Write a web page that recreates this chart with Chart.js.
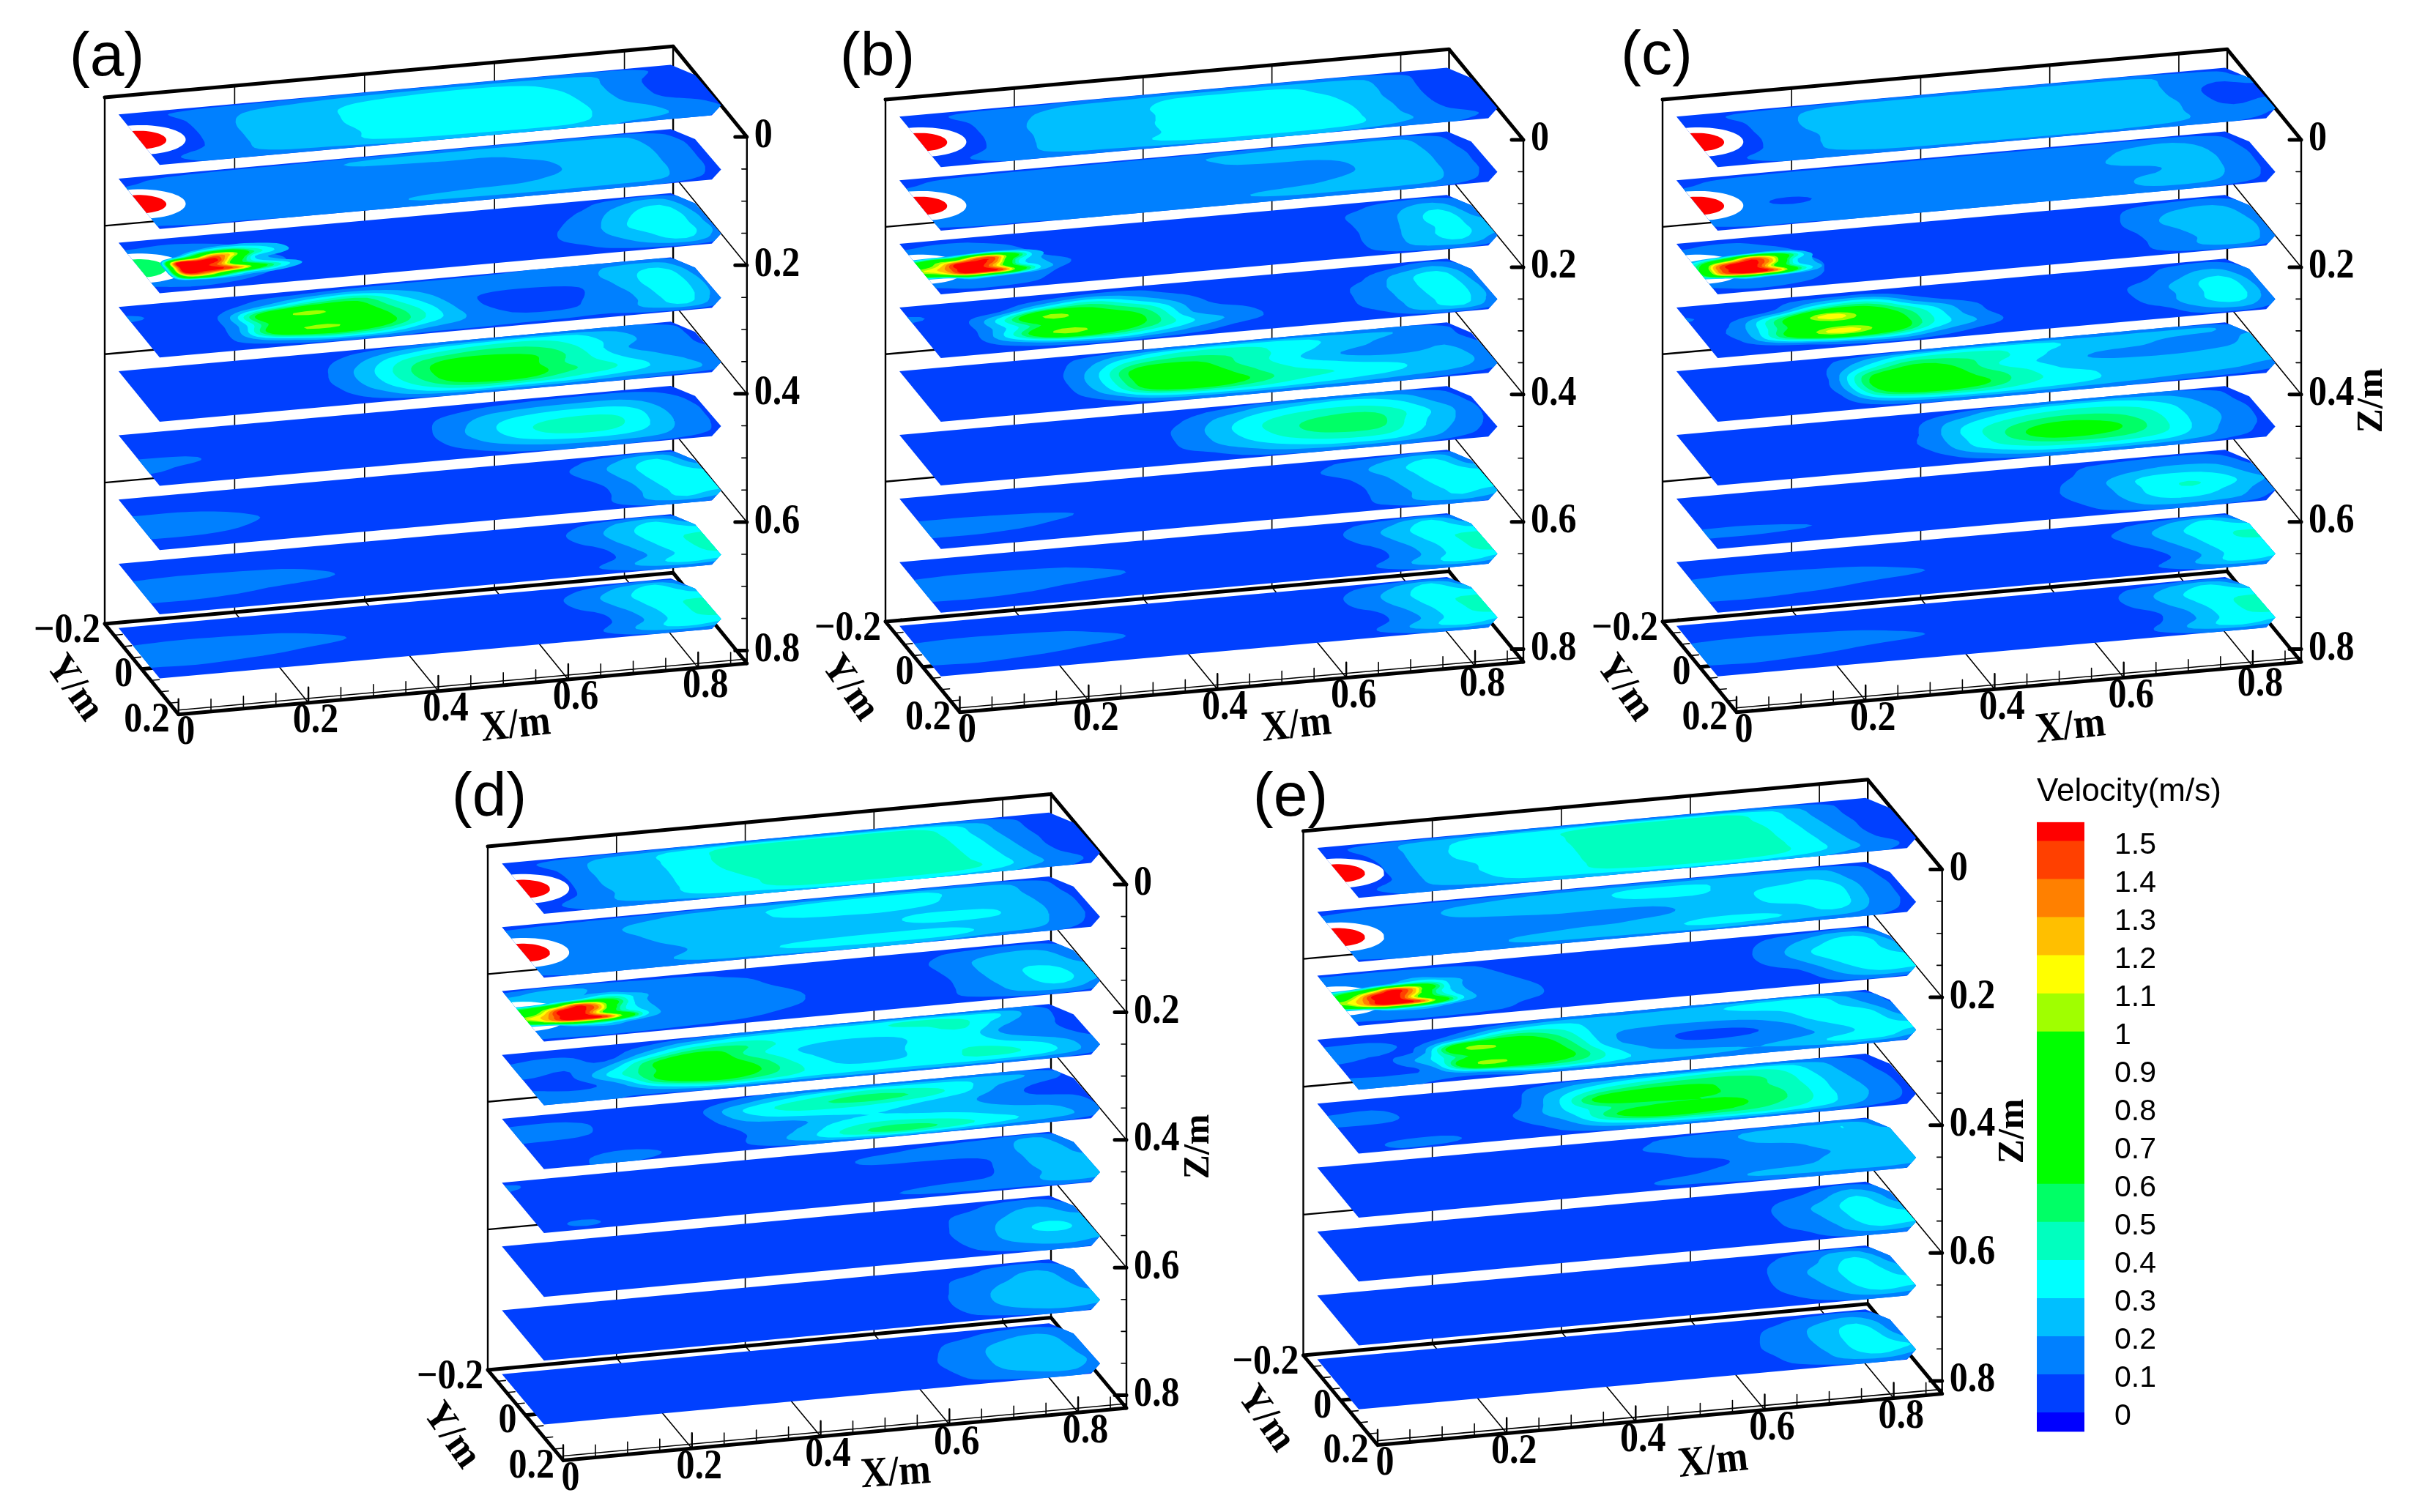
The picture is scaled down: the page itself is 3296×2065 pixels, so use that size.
<!DOCTYPE html>
<html>
<head>
<meta charset="utf-8">
<title>Velocity slices</title>
<script src="https://cdn.jsdelivr.net/npm/chart.js@4"></script>
<style>
  html, body { margin: 0; background: #fff; }
  body { position: relative; width: 3296px; height: 2065px; overflow: hidden; }
  canvas { position: absolute; }
</style>
</head>
<body>
<script>
// stations of the velocity tables, metres
const xStations = [0,.07,.14,.21,.28,.35,.42,.49,.56,.63,.70,.76,.82,.875];
const yStations = [-.125,-.105,-.07,-.035,0,.035,.07,.1];
const jetX = [0,.03,.06,.09,.12,.15,.18,.22,.26];
const jetY = [-.08,-.06,-.04,-.02,0,.02,.04,.06];
const zTicks = [0,.2,.4,.6,.8];
const xTicks = [0,.2,.4,.6,.8];
const yTicks = [-.2,0,.2];
const sliceZ = [0,.1,.2,.3,.4,.5,.6,.7,.8];

// colour bar
const barTicks = [0,.1,.2,.3,.4,.5,.6,.7,.8,.9,1,1.1,1.2,1.3,1.4,1.5];
const barEdges = [-.05,0,.1,.2,.3,.4,.5,.6,1,1.1,1.2,1.3,1.4,1.5,1.55];
const barColors = ['#0000ff','#0040ff','#0080ff','#00bfff','#00ffff','#00ffbf','#00ff66','#00ff00','#a0ff00','#ffff00','#ffbf00','#ff8000','#ff4000','#ff0000'];
// contour levels in 0.01 m/s, and the band colour above each
const levels = [10,20,30,40,50,60,100,110,120,130,140,150];
const bandColors = ['#0040ff','#0080ff','#00bfff','#00ffff','#00ffbf','#00ff66','#00ff00','#a0ff00','#ffff00','#ffbf00','#ff8000','#ff4000','#ff0000'];

// velocity tables, 0.01 m/s, one row per y station, one column per x station
const backEdge = [5,5,5,5,5,5,5,5,5,5,5,7,8,5];
const frontEdge = [5,5,5,5,5,5,5,5,5,5,6,9,10,7];
const rimTop = [6,7,8,8,8,8,8,8,8,8,8,8,7,6];

const sliceA1 = [[8,8,8,8,9,9,9,9,9,9,9,9,8,6],[8,10,15,18,20,24,26,28,28,26,22,16,9,6],[6,8,17,24,26,32,36,36,36,32,24,15,6,6],[6,7,18,25,27,33,36,36,36,36,25,15,6,6],[6,7,18,25,28,32,36,36,36,36,27,16,8,7],[6,8,18,25,26,32,36,36,36,36,28,22,14,9],[8,12,18,24,26,31,35,36,36,35,26,23,17,10],[8,10,12,14,15,18,20,22,24,24,20,16,12,8]];
const sliceA2 = [rimTop,[8,12,14,15,17,20,23,24,25,25,25,23,12,7],[12,15,15,15,16,18,18,19,19,24,28,27,15,8],[12,15,15,15,15,15,15,15,15,19,28,28,16,8],[12,15,15,15,15,15,15,15,15,18,27,28,16,8],[12,15,15,15,15,15,15,17,18,22,27,28,16,8],[12,15,15,15,15,17,22,24,25,26,26,25,14,7],[8,9,9,10,10,10,11,11,11,11,10,9,8,6]];
const sliceA3 = [backEdge,[8,9,7,5,5,5,5,5,5,5,7,16,22,8],[13,15,12,6,5,5,5,5,5,5,12,25,33,12],[14,15,15,9,5,5,5,5,5,7,16,30,38,16],[14,15,15,11,5,5,5,5,5,9,18,32,38,17],[14,15,15,9,5,5,5,5,5,9,17,26,38,18],[10,13,10,6,5,5,5,5,5,5,12,20,28,14],[6,6,5,5,5,5,5,5,5,5,5,6,7,5]];
const sliceA4 = [[5,5,5,5,6,7,8,8,9,10,12,13,11,7],[6,5,5,9,14,18,15,14,13,15,16,22,24,9],[12,6,8,26,48,55,28,15,14,15,17,25,35,14],[5,5,15,85,103,68,38,16,7,6,12,25,38,17],[5,5,14,70,85,72,45,18,6,6,12,22,38,18],[5,5,16,85,103,75,42,20,9,7,14,21,36,17],[7,9,10,26,45,40,22,16,13,13,13,21,30,12],[9,8,5,5,6,7,7,8,8,7,6,7,7,5]];
const sliceA5 = [[5,5,5,5,5,6,8,10,11,11,11,11,9,6],[5,5,5,5,5,10,20,30,35,36,30,20,14,8],[5,5,5,5,6,18,38,50,55,50,36,24,14,9],[5,5,5,5,7,24,48,68,65,58,38,20,15,9],[5,5,5,5,8,25,50,72,75,55,40,26,17,11],[5,5,5,5,7,22,45,70,80,55,45,32,22,14],[5,5,5,5,6,14,30,42,42,38,30,26,24,14],[5,5,5,5,5,6,8,10,11,11,10,8,6,5]];
const sliceA6 = [[5,5,5,5,5,5,5,5,6,7,8,8,8,6],[5,5,5,5,5,5,5,6,10,13,14,14,10,7],[5,5,5,5,5,5,5,12,22,27,28,26,15,8],[7,6,5,5,5,5,5,16,30,38,40,35,18,9],[13,12,5,5,5,5,5,18,32,44,48,36,19,9],[12,7,5,5,5,5,5,15,28,38,40,32,18,9],[5,5,5,5,5,5,5,9,16,22,24,22,15,8],[5,5,5,5,5,5,5,6,8,9,9,8,7,5]];
const sliceA7 = [backEdge,[5,5,5,5,5,5,5,5,5,5,9,18,26,8],[6,6,5,5,5,5,5,5,5,5,13,25,36,16],[13,13,10,6,5,5,5,5,5,5,11,24,38,30],[14,14,13,8,5,5,5,5,5,5,8,21,37,36],[13,13,10,5,5,5,5,5,5,5,8,20,34,36],[6,6,5,5,5,5,5,5,5,5,9,20,30,22],frontEdge];
const sliceA8 = [backEdge,[5,5,5,5,5,5,5,5,5,5,10,20,28,9],[6,6,6,5,5,5,5,5,5,5,14,26,37,28],[12,14,13,12,9,6,5,5,5,5,12,25,37,42],[14,15,14,14,11,7,5,5,5,5,7,21,35,44],[13,13,11,8,6,5,5,5,5,5,7,18,32,42],[6,6,5,5,5,5,5,5,5,5,12,24,34,30],frontEdge];
const sliceA9 = [backEdge,[5,5,5,5,5,5,5,5,5,5,10,20,30,9],[6,6,6,5,5,5,5,5,5,5,15,27,38,26],[12,14,13,12,9,6,5,5,5,5,13,25,38,40],[14,15,14,14,12,8,5,5,5,5,8,21,36,44],[13,14,12,10,7,5,5,5,5,5,8,19,35,42],[6,7,6,5,5,5,5,5,5,5,11,24,34,28],frontEdge];

const sliceB1 = [[7,8,8,8,9,9,9,9,9,9,9,8,7,6],[6,10,15,18,22,24,28,28,28,26,22,13,7,6],[6,8,15,22,25,28,34,36,36,30,24,14,6,6],[6,7,16,24,26,28,35,36,36,33,24,14,6,6],[5,7,16,24,26,29,36,36,36,35,25,15,6,5],[6,8,17,24,26,29,36,36,36,36,25,16,8,6],[8,11,17,24,26,30,35,36,36,34,25,18,12,8],[7,9,11,13,14,16,18,20,20,18,16,12,9,6]];
const sliceB2 = [rimTop,[8,12,13,14,15,16,18,20,22,24,25,24,12,7],[12,15,15,15,15,15,15,20,22,23,27,27,14,7],[12,15,15,15,15,15,15,15,15,16,24,28,15,8],[12,15,15,15,15,15,15,15,15,16,23,28,15,8],[12,15,15,15,15,15,15,16,17,21,26,28,15,8],[12,15,15,15,15,15,15,20,24,25,26,24,13,7],[8,9,9,10,10,10,10,11,11,11,10,9,8,6]];
const sliceB3 = [backEdge,[9,11,8,5,5,5,5,5,5,5,8,15,18,8],[13,15,13,5,5,5,5,5,5,5,13,20,30,10],[14,16,16,8,5,5,5,5,5,5,13,22,36,16],[14,16,16,12,5,5,5,5,5,5,13,23,33,24],[14,15,15,9,5,5,5,5,5,5,14,24,34,22],[10,14,12,6,5,5,5,5,5,5,13,22,27,14],[6,7,6,5,5,5,5,5,5,5,7,8,8,5]];
const sliceB4 = [backEdge,[5,5,5,8,15,13,5,5,5,5,5,10,18,7],[12,6,10,38,50,28,12,5,5,5,9,24,33,12],[5,6,42,108,70,50,18,6,5,5,14,26,37,15],[5,6,35,72,78,58,20,12,5,5,15,25,38,17],[5,6,45,110,80,52,28,15,5,5,15,24,36,17],[7,6,15,32,38,26,14,6,5,5,10,24,30,12],[8,6,5,5,5,5,5,5,5,5,5,7,7,5]];
const sliceB5 = [[5,5,5,5,6,8,10,12,12,12,11,11,9,6],[5,5,5,5,12,24,36,38,36,30,24,20,14,7],[5,5,5,5,20,48,55,50,40,30,22,15,14,8],[5,5,5,6,28,70,72,52,38,24,16,15,20,10],[5,5,5,6,30,72,78,58,42,34,26,24,24,14],[5,5,5,6,26,68,82,62,45,40,36,28,26,14],[5,5,5,5,12,30,38,38,34,30,26,22,18,10],[5,5,5,5,5,7,9,10,11,11,10,8,6,5]];
const sliceB6 = [[5,5,5,5,5,5,5,6,8,10,10,10,8,6],[5,5,5,5,5,5,6,12,22,28,30,24,13,7],[5,5,5,5,5,5,10,24,36,42,42,34,18,8],[5,5,5,5,5,5,14,30,44,52,54,40,24,9],[5,5,5,5,5,5,15,30,44,56,56,36,22,9],[5,5,5,5,5,5,14,26,38,46,46,32,18,8],[5,5,5,5,5,5,7,16,25,31,31,24,13,6],[5,5,5,5,5,5,5,7,9,10,10,8,6,5]];
const sliceB7 = [backEdge,[5,5,5,5,5,5,5,5,5,7,13,20,26,8],[5,5,5,5,5,5,5,5,5,9,18,28,36,14],[8,8,7,6,5,5,5,5,5,5,14,26,38,30],[14,14,13,11,8,5,5,5,5,5,12,24,36,34],[13,13,11,8,5,5,5,5,5,5,12,22,33,32],[6,6,5,5,5,5,5,5,5,5,12,22,28,20],frontEdge];
const sliceB8 = [backEdge,[5,5,5,5,5,5,5,5,5,5,10,18,30,9],[6,6,6,5,5,5,5,5,5,5,14,26,38,26],[12,14,13,12,9,6,5,5,5,5,12,24,38,42],[14,15,14,14,12,8,5,5,5,5,8,20,35,46],[13,14,12,9,6,5,5,5,5,5,8,19,34,42],[6,6,5,5,5,5,5,5,5,5,12,24,34,26],frontEdge];
const sliceB9 = [backEdge,[5,5,5,5,5,5,5,5,5,5,10,19,30,9],[6,6,6,5,5,5,5,5,5,5,14,26,38,28],[12,14,13,12,9,6,5,5,5,5,13,25,38,42],[14,15,14,14,12,8,5,5,5,5,8,21,36,44],[13,14,12,10,7,5,5,5,5,5,8,19,35,40],[6,7,6,5,5,5,5,5,5,5,12,25,34,26],frontEdge];

const sliceC1 = [[7,8,8,8,9,9,9,9,9,9,9,8,7,6],[6,10,15,20,25,26,26,26,26,26,24,16,13,7],[6,8,16,24,27,28,28,28,28,28,26,15,10,12],[6,7,17,23,27,28,28,28,28,28,26,15,6,8],[5,7,16,22,27,28,28,28,28,28,26,17,6,9],[6,8,17,22,27,28,28,28,28,28,26,17,11,14],[8,11,17,21,26,27,27,27,27,27,24,18,15,9],[7,9,11,13,14,15,16,17,17,16,14,12,9,6]];
const sliceC2 = [rimTop,[8,12,13,14,14,14,15,15,15,15,17,18,12,7],[12,15,15,15,15,15,15,15,15,17,24,26,16,7],[12,14,14,15,15,15,15,15,15,19,26,27,18,8],[12,13,8,13,15,15,15,15,15,16,18,26,18,8],[12,14,14,15,15,15,15,15,15,18,22,27,17,8],[11,15,15,15,15,15,15,15,15,17,22,22,14,7],[8,9,9,10,10,10,10,11,11,11,10,9,8,6]];
const sliceC3 = [backEdge,[9,11,7,5,5,5,5,5,5,6,10,14,15,8],[13,15,11,5,5,5,5,5,5,5,14,22,25,12],[14,16,14,6,5,5,5,5,5,5,16,25,27,16],[14,15,15,8,5,5,5,5,5,5,13,22,27,18],[14,15,15,7,5,5,5,5,5,5,12,20,27,17],[10,14,11,6,5,5,5,5,5,5,12,20,25,13],[6,7,6,5,5,5,5,5,5,5,7,8,8,5]];
const sliceC4 = [backEdge,[5,5,7,14,16,6,5,5,5,5,5,12,15,7],[11,5,15,48,52,18,5,5,5,5,8,18,26,10],[5,14,60,118,78,40,14,5,5,5,14,24,36,14],[5,18,62,90,82,45,16,5,5,5,14,24,38,16],[5,16,72,118,85,40,20,5,5,5,12,26,36,15],[7,6,14,30,34,18,8,5,5,5,5,18,24,10],[7,6,5,5,5,5,5,5,5,5,5,7,7,5]];
const sliceC5 = [[5,5,5,5,6,8,10,11,11,11,11,10,8,6],[5,5,5,6,18,32,36,36,32,25,25,24,22,8],[5,5,5,8,35,58,52,42,30,24,22,16,14,22],[5,5,5,10,62,74,58,36,27,18,15,15,18,24],[5,5,5,12,70,78,62,46,30,26,24,24,26,24],[5,5,5,10,60,80,66,45,36,28,26,25,25,22],[5,5,5,7,25,36,38,34,30,26,22,20,18,12],[5,5,5,5,6,8,9,10,10,9,8,7,6,5]];
const sliceC6 = [[5,5,5,5,5,5,6,8,10,11,11,10,8,6],[5,5,5,5,5,6,12,24,30,32,28,20,12,7],[5,5,5,5,5,8,25,38,46,46,40,28,15,7],[5,5,5,5,5,10,32,50,62,58,46,30,18,8],[5,5,5,5,5,12,32,54,75,66,48,30,18,8],[5,5,5,5,5,10,30,45,55,54,44,28,15,8],[5,5,5,5,5,6,16,28,33,34,30,22,12,6],[5,5,5,5,5,5,6,8,10,10,10,8,6,5]];
const sliceC7 = [[5,5,5,5,5,5,5,5,5,5,6,7,8,5],[5,5,5,5,5,5,5,5,7,10,14,16,12,6],[5,5,5,5,5,5,5,5,7,13,20,22,20,8],[5,5,5,5,5,5,5,5,9,18,32,34,28,14],[8,8,6,5,5,5,5,5,10,18,33,41,33,20],[13,13,11,8,5,5,5,5,9,17,32,35,26,15],[6,6,5,5,5,5,5,5,7,14,24,25,20,8],[5,5,5,5,5,5,5,5,6,7,9,9,8,5]];
const sliceC8 = [backEdge,[5,5,5,5,5,5,5,5,5,5,11,20,30,10],[6,6,6,5,5,5,5,5,5,7,16,28,38,34],[12,14,13,12,10,7,5,5,5,5,14,26,38,42],[14,15,14,14,13,10,5,5,5,5,9,22,36,38],[13,14,12,10,7,5,5,5,5,5,7,18,34,36],[6,6,5,5,5,5,5,5,5,5,11,22,33,28],frontEdge];
const sliceC9 = [backEdge,[5,5,5,5,5,5,5,5,5,5,11,20,28,9],[6,6,6,5,5,5,5,5,5,5,15,28,38,30],[12,14,13,12,10,7,5,5,5,5,13,26,38,42],[14,15,14,14,13,10,5,5,5,5,8,21,37,44],[13,14,12,10,7,5,5,5,5,5,9,20,36,40],[6,7,6,5,5,5,5,5,5,5,12,25,34,26],frontEdge];

const sliceD1 = [[7,8,8,8,9,9,9,9,9,9,9,8,7,6],[7,12,20,26,33,40,42,42,42,40,30,16,7,6],[6,10,24,28,36,45,46,46,46,46,33,18,7,6],[6,9,24,28,36,45,46,46,46,46,35,20,8,6],[5,9,24,28,36,42,46,46,46,46,36,22,8,6],[6,10,22,28,36,40,46,46,46,46,37,24,10,6],[8,13,22,27,35,38,46,46,46,46,38,25,14,7],[7,10,13,16,18,22,26,28,30,28,24,16,10,6]];
const sliceD2 = [rimTop,[11,13,14,17,22,26,28,30,32,32,26,24,13,7],[14,15,17,24,26,28,31,36,37,34,26,25,15,7],[14,15,16,22,26,28,28,28,29,28,26,26,17,8],[14,15,15,20,26,28,28,28,28,34,34,27,18,8],[14,15,15,17,24,28,28,28,28,28,27,27,17,8],[12,15,16,20,26,28,32,35,36,36,27,25,14,7],[9,11,13,15,16,17,18,19,19,17,15,12,9,6]];
const sliceD3 = [[7,8,8,7,6,5,5,5,5,5,5,6,7,5],[15,24,18,14,13,8,5,5,5,6,12,16,16,8],[32,26,16,15,14,14,5,5,5,8,18,24,25,12],[30,20,15,15,15,15,9,5,5,7,18,28,28,18],[18,16,15,15,15,15,11,5,5,6,17,28,33,22],[20,16,15,15,15,15,10,5,5,7,16,26,34,22],[14,14,14,14,13,10,6,5,5,8,14,22,25,14],[8,9,9,8,7,6,5,5,5,5,6,8,8,5]];
const sliceD4 = [[6,7,7,7,8,10,12,14,14,14,13,12,10,6],[6,6,6,10,22,30,33,36,36,42,38,32,14,7],[12,18,6,28,52,52,38,33,34,37,42,24,13,7],[16,10,22,60,82,50,32,25,24,34,34,16,12,6],[6,8,36,62,74,60,36,26,26,36,36,24,16,8],[10,6,22,68,88,62,40,28,28,36,42,38,26,12],[18,16,14,30,48,44,36,34,34,36,38,36,26,12],[12,12,9,7,9,10,12,14,14,14,13,10,8,6]];
const sliceD5 = [[6,7,7,7,7,8,10,11,12,12,12,11,9,6],[6,7,5,5,5,12,24,34,38,34,30,26,18,8],[14,14,8,5,6,28,42,50,55,48,34,18,10,8],[13,15,7,5,5,24,35,38,36,30,22,14,6,8],[8,5,5,5,5,14,18,28,30,26,22,17,14,9],[5,5,6,5,5,12,22,38,42,38,30,24,20,10],[5,9,15,8,5,14,26,44,56,48,36,28,22,12],[6,10,10,6,5,7,10,13,15,15,13,10,8,5]];
const sliceD6 = [[5,5,5,5,5,5,5,5,5,6,7,8,8,5],[12,5,5,5,5,5,5,5,7,10,12,14,22,8],[8,5,5,5,5,5,5,5,13,14,14,16,27,14],[5,5,5,5,5,5,5,5,5,6,8,14,28,18],[5,5,5,5,5,5,5,5,5,5,7,15,26,24],[5,5,5,5,5,5,5,5,5,7,9,15,24,27],[5,12,5,5,5,5,5,5,10,13,14,16,26,24],[5,7,5,5,5,5,5,5,6,7,8,8,8,6]];
const sliceD7 = [backEdge,[5,5,5,5,5,5,5,5,5,5,6,12,14,7],[5,5,5,5,5,5,5,5,5,5,12,18,24,12],[5,5,5,5,5,5,5,5,5,6,14,22,27,22],[5,5,5,5,5,5,5,5,5,7,15,25,34,25],[5,5,5,5,5,5,5,5,5,6,15,24,27,26],[5,5,5,5,5,5,5,5,5,5,12,18,22,18],frontEdge];
const sliceD8 = [backEdge,[5,5,5,5,5,5,5,5,5,5,6,12,14,8],[5,5,5,5,5,5,5,5,5,5,12,17,24,10],[5,5,5,5,5,5,5,5,5,6,14,22,26,14],[5,5,5,5,5,5,5,5,5,7,16,26,28,18],[5,5,5,5,5,5,5,5,5,7,16,26,28,24],[5,5,5,5,5,5,5,5,5,6,13,19,24,20],frontEdge];
const sliceD9 = [backEdge,[5,5,5,5,5,5,5,5,5,5,7,12,14,8],[5,5,5,5,5,5,5,5,5,6,14,20,25,11],[5,5,5,5,5,5,5,5,5,8,16,25,27,14],[5,5,5,5,5,5,5,5,5,9,16,27,28,16],[5,5,5,5,5,5,5,5,5,8,16,25,28,18],[5,5,5,5,5,5,5,5,5,6,14,18,22,14],frontEdge];

const sliceE1 = [[7,8,8,8,9,9,9,9,9,9,9,8,7,6],[7,13,22,28,33,36,40,42,42,40,30,16,7,6],[6,11,24,32,35,38,46,46,46,44,33,18,7,6],[6,10,25,32,36,38,46,46,46,46,35,20,8,6],[5,10,25,30,36,38,46,46,46,46,36,22,8,6],[6,10,25,30,36,38,46,46,46,46,37,24,10,6],[8,13,22,27,35,37,42,46,46,44,36,25,14,7],[7,10,13,16,18,21,24,26,27,25,22,16,10,6]];
const sliceE2 = [rimTop,[10,13,15,17,20,24,26,28,28,27,26,24,13,7],[13,15,16,24,27,27,28,33,32,28,28,30,16,7],[13,15,15,18,20,22,22,24,28,28,36,38,18,8],[13,15,15,15,15,15,15,16,26,28,34,38,18,8],[13,15,15,15,16,19,20,24,28,28,28,35,17,8],[12,15,15,17,24,26,27,28,33,32,27,26,14,7],[9,10,11,12,13,14,15,16,16,14,13,12,9,6]];
const sliceE3 = [[7,7,7,6,5,5,5,5,5,5,5,6,8,5],[14,15,14,12,7,5,5,5,5,5,11,18,22,8],[15,15,15,15,9,5,5,5,5,6,17,28,38,16],[16,15,15,15,11,5,5,5,5,7,20,34,37,22],[16,15,15,15,13,6,5,5,5,7,16,30,37,30],[15,15,15,15,12,6,5,5,5,6,9,25,36,36],[12,13,14,14,7,5,5,5,5,5,6,18,28,26],[7,8,8,6,5,5,5,5,5,5,6,8,8,5]];
const sliceE4 = [[7,8,8,7,7,9,11,12,13,14,14,14,10,6],[8,7,5,8,20,28,26,24,26,30,36,36,18,8],[13,15,8,30,55,45,26,24,24,26,30,36,25,9],[15,10,18,106,85,55,24,15,14,16,24,36,36,14],[7,7,30,65,80,60,24,14,6,8,18,30,38,22],[8,6,22,106,85,62,32,17,14,15,18,24,36,33],[14,14,13,24,44,42,30,26,22,20,24,34,34,20],[12,11,8,6,7,9,11,12,14,14,13,12,9,6]];
const sliceE5 = [[5,6,6,6,6,7,9,10,11,11,11,10,8,6],[5,5,5,5,6,14,24,32,36,38,36,24,12,7],[10,11,5,5,6,24,46,56,58,55,45,28,14,7],[14,14,5,5,8,30,70,78,65,56,46,30,16,8],[5,5,5,5,12,30,50,58,60,58,48,30,18,8],[5,5,5,5,10,24,60,84,74,58,46,30,18,8],[5,12,13,5,6,16,30,42,44,44,36,26,14,7],[6,9,7,5,5,7,9,11,12,12,10,8,6,5]];
const sliceE6 = [[5,5,5,5,5,5,5,5,6,8,9,10,9,6],[5,5,5,5,5,5,5,8,14,18,24,26,28,9],[5,5,5,5,5,5,5,10,14,18,24,26,28,22],[5,5,5,5,5,5,5,6,12,15,16,24,28,28],[5,5,5,5,5,5,5,5,7,12,15,20,28,28],[5,5,5,5,5,5,5,6,10,14,16,24,28,28],[5,5,5,5,5,5,6,12,14,22,25,26,28,24],[5,5,5,5,5,5,5,6,7,8,9,10,10,8]];
const sliceE7 = [backEdge,[5,5,5,5,5,5,5,5,5,5,5,10,18,8],[5,5,5,5,5,5,5,5,5,5,10,17,30,14],[5,5,5,5,5,5,5,5,5,5,13,24,36,18],[5,5,5,5,5,5,5,5,5,5,13,23,38,28],[5,5,5,5,5,5,5,5,5,5,12,21,37,36],[5,5,5,5,5,5,5,5,5,5,8,18,28,24],frontEdge];
const sliceE8 = [backEdge,[5,5,5,5,5,5,5,5,5,5,9,16,22,8],[5,5,5,5,5,5,5,5,5,5,12,20,33,14],[5,5,5,5,5,5,5,5,5,5,14,25,36,20],[5,5,5,5,5,5,5,5,5,6,14,24,38,26],[5,5,5,5,5,5,5,5,5,6,13,22,37,34],[5,5,5,5,5,5,5,5,5,5,10,18,28,24],frontEdge];
const sliceE9 = [backEdge,[5,5,5,5,5,5,5,5,5,5,8,14,18,8],[5,5,5,5,5,5,5,5,5,6,13,22,30,12],[5,5,5,5,5,5,5,5,5,7,15,24,36,14],[5,5,5,5,5,5,5,5,5,8,15,24,38,20],[5,5,5,5,5,5,5,5,5,7,14,23,38,30],[5,5,5,5,5,5,5,5,5,6,12,20,27,18],frontEdge];

// jet close to the inlet, finer table for the slice at z = 0.2
const jetA = [[0,0,0,0,12,16,18,14,8],[0,0,0,22,42,48,36,24,12],[0,0,30,70,125,115,55,28,14],[0,0,155,155,155,90,30,18,12],[0,0,155,155,135,70,35,18,14],[0,0,155,155,150,125,70,32,14],[0,0,100,110,70,40,30,18,10],[0,0,0,14,16,14,10,8,5]];
const jetB = [[0,0,0,0,0,0,0,0,0],[0,0,10,16,24,20,16,10,5],[60,85,80,125,135,80,30,14,5],[85,110,155,155,135,50,24,12,5],[110,125,155,155,110,42,24,14,5],[70,100,150,155,140,72,28,14,5],[0,0,40,36,28,18,12,8,5],[0,0,0,0,0,0,0,0,0]];
const jetC = [[0,0,0,0,0,0,0,0,0],[0,0,10,16,24,18,10,6,5],[30,60,90,135,110,60,22,10,5],[50,125,155,155,120,40,20,10,5],[60,135,155,150,90,35,20,10,5],[50,120,150,155,125,55,22,10,5],[0,0,35,30,22,14,10,6,5],[0,0,0,0,0,0,0,0,0]];
const jetD = [[0,0,0,12,20,22,14,10,8],[0,0,20,30,42,45,30,16,12],[60,75,95,140,120,70,30,15,12],[70,105,155,155,130,55,28,15,12],[110,125,155,155,100,50,30,15,12],[70,110,150,155,145,90,35,15,12],[0,0,40,50,45,28,18,14,10],[0,0,0,14,18,14,12,10,8]];
const jetE = [[0,0,0,10,18,20,12,9,7],[0,0,18,28,40,40,28,15,10],[50,70,100,145,125,75,30,15,10],[70,110,155,155,125,55,28,14,10],[105,125,155,155,100,55,30,15,10],[70,110,150,155,140,85,35,15,10],[0,0,40,45,40,26,16,12,9],[0,0,0,12,16,14,10,8,7]];

const slicesA = [sliceA1,sliceA2,sliceA3,sliceA4,sliceA5,sliceA6,sliceA7,sliceA8,sliceA9];
const slicesB = [sliceB1,sliceB2,sliceB3,sliceB4,sliceB5,sliceB6,sliceB7,sliceB8,sliceB9];
const slicesC = [sliceC1,sliceC2,sliceC3,sliceC4,sliceC5,sliceC6,sliceC7,sliceC8,sliceC9];
const slicesD = [sliceD1,sliceD2,sliceD3,sliceD4,sliceD5,sliceD6,sliceD7,sliceD8,sliceD9];
const slicesE = [sliceE1,sliceE2,sliceE3,sliceE4,sliceE5,sliceE6,sliceE7,sliceE8,sliceE9];

// slice plan shape in (X, Y): chamfered far end
const outline = [[0,-.125],[.85,-.125],[.873,-.074],[.875,.06],[.85,.098],[0,.098]];
const inlet = {y: -.012, notchX: .069, notchY: .063, coreX: .04, coreY: .039};
const zBottom = .82, xEnd = .875;

const panels = [
  {name:'(a)', box:[0,0,1130,1030], fbl:[243.7,975.7], fbr:[1019.8,906], bbl:[143,852], h:719, label:[146,80], xt:[704,992,-6], yt:[101,940], zt:null, slices:slicesA, jet:jetA, core:[155,155,55]},
  {name:'(b)', box:[1090,0,1100,1030], fbl:[1310.5,972.7], fbr:[2080,904], bbl:[1209,849], h:713, label:[1198,80], xt:[1770,992,-6], yt:[1160,940], zt:null, slices:slicesB, jet:jetB, core:[155,155,null]},
  {name:'(c)', box:[2160,0,1136,1030], fbl:[2371,972.7], fbr:[3142,904], bbl:[2270,849], h:713, label:[2262,78], xt:[2827,994,-6], yt:[2218,940], zt:[3239,547], slices:slicesC, jet:jetC, core:[155,155,null]},
  {name:'(d)', box:[560,1020,1100,1045], fbl:[769,1994.5], fbr:[1538,1923], bbl:[666,1871], h:715, label:[668,1091], xt:[1223,2013,-4], yt:[616,1961], zt:[1637,1566], slices:slicesD, jet:jetD, core:[155,155,null]},
  {name:'(e)', box:[1660,1020,1130,1045], fbl:[1881,1973.6], fbr:[2651.7,1903.4], bbl:[1779.5,1851], h:716, label:[1762,1091], xt:[2339,1997,-6], yt:[1728,1938], zt:[2749,1545], slices:slicesE, jet:jetE, core:[155,155,null]}
];

function bandColor(v) {
  let i = 0;
  while (i < levels.length && v >= levels[i]) i++;
  return bandColors[i];
}

function fineAxis(a, n) {
  const out = [];
  for (let i = 0; i < a.length - 1; i++)
    for (let k = 0; k < n; k++) out.push(a[i] + (a[i+1] - a[i]) * k / n);
  out.push(a[a.length-1]);
  return out;
}

function smoothLine(r, n) {
  const out = [];
  for (let i = 0; i < r.length - 1; i++) {
    const p0 = r[Math.max(i-1,0)], p1 = r[i], p2 = r[i+1], p3 = r[Math.min(i+2,r.length-1)];
    for (let k = 0; k < n; k++) {
      const t = k / n;
      out.push(.5 * (2*p1 + (p2-p0)*t + (2*p0-5*p1+4*p2-p3)*t*t + (3*p1-p0-3*p2+p3)*t*t*t));
    }
  }
  out.push(r[r.length-1]);
  return out;
}

function smoothTable(table, nx, ny) {
  const rows = table.map(r => smoothLine(r, nx));
  const cols = rows[0].map((_, j) => smoothLine(rows.map(r => r[j]), ny));
  return cols[0].map((_, i) => cols.map(c => c[i]));
}

// marching squares: closed rings of one level, high side tells the fill colour
function ringsAt(field, px, py, L) {
  const w = px.length, h = py.length;
  const next = new Map(), pts = new Map();
  const cross = (key, x1, y1, v1, x2, y2, v2) => {
    const t = (L - v1) / (v2 - v1);
    pts.set(key, [x1 + t*(x2-x1), y1 + t*(y2-y1)]);
  };
  for (let j = 0; j < h-1; j++) for (let i = 0; i < w-1; i++) {
    const c = [[i,j],[i+1,j],[i+1,j+1],[i,j+1]];
    const vals = c.map(q => field[q[1]][q[0]]);
    const keys = [(j*w+i)*2, ((j*w)+i+1)*2+1, ((j+1)*w+i)*2, (j*w+i)*2+1];
    const ups = [], downs = [];
    for (let e = 0; e < 4; e++) {
      const a = e, b = (e+1)%4;
      const ha = vals[a] >= L, hb = vals[b] >= L;
      if (ha === hb) continue;
      cross(keys[e], px[c[a][0]], py[c[a][1]], vals[a], px[c[b][0]], py[c[b][1]], vals[b]);
      (hb ? ups : downs).push({k: keys[e], e});
    }
    if (ups.length === 1) next.set(ups[0].k, downs[0].k);
    else if (ups.length === 2) {
      const centreHigh = vals.reduce((s,v)=>s+v,0)/4 >= L;
      const order = [...ups.map(u=>({...u,up:true})), ...downs.map(d=>({...d,up:false}))].sort((a,b)=>a.e-b.e);
      const s = order[0].up ? 0 : 1;
      const u1 = order[s], d1 = order[(s+1)%4], u2 = order[(s+2)%4], d2 = order[(s+3)%4];
      if (centreHigh) { next.set(u2.k, d1.k); next.set(u1.k, d2.k); }
      else { next.set(u1.k, d1.k); next.set(u2.k, d2.k); }
    }
  }
  const rings = [];
  while (next.size) {
    const start = next.keys().next().value;
    const ring = [];
    let k = start;
    while (next.has(k)) {
      ring.push(pts.get(k));
      const n = next.get(k);
      next.delete(k);
      k = n;
    }
    if (ring.length > 2) rings.push(ring);
  }
  return rings;
}

function ringArea(r) {
  let a = 0;
  for (let i = 0; i < r.length; i++) {
    const p = r[i], q = r[(i+1)%r.length];
    a += p[0]*q[1] - q[0]*p[1];
  }
  return a / 2;
}

// cut a ring to the convex slice outline
function clipTo(ring, hull) {
  let out = ring;
  for (let e = 0; e < hull.length && out.length; e++) {
    const a = hull[e], b = hull[(e+1)%hull.length];
    const inside = p => (b[0]-a[0])*(p[1]-a[1]) - (b[1]-a[1])*(p[0]-a[0]) >= 0;
    const res = [];
    for (let i = 0; i < out.length; i++) {
      const p = out[i], q = out[(i+1)%out.length];
      const ip = inside(p), iq = inside(q);
      if (ip) res.push(p);
      if (ip !== iq) {
        const d1 = (b[0]-a[0])*(p[1]-a[1]) - (b[1]-a[1])*(p[0]-a[0]);
        const d2 = (b[0]-a[0])*(q[1]-a[1]) - (b[1]-a[1])*(q[0]-a[0]);
        const t = d1 / (d1 - d2);
        res.push([p[0]+t*(q[0]-p[0]), p[1]+t*(q[1]-p[1])]);
      }
    }
    out = res;
  }
  return out;
}

// all coloured polygons of one table, biggest first so nested ones land on top
function contourPolys(table, xs, ys, minLevel, nx, ny) {
  const fine = smoothTable(table, nx, ny);
  const fx = fineAxis(xs, nx), fy = fineAxis(ys, ny);
  const low = -1e6;
  const px = [fx[0], ...fx, fx[fx.length-1]];
  const py = [fy[0], ...fy, fy[fy.length-1]];
  const blank = px.map(() => low);
  const field = [blank, ...fine.map(r => [low, ...r, low]), blank];
  const polys = [];
  levels.forEach((L, li) => {
    if (L < minLevel) return;
    ringsAt(field, px, py, L).forEach(r => {
      const a = ringArea(r);
      if (Math.abs(a) < 1e-6) return;
      polys.push({ring: r, area: Math.abs(a), color: a < 0 ? bandColors[li+1] : bandColors[li]});
    });
  });
  polys.sort((p, q) => q.area - p.area);
  return polys;
}

function halfDisc(rx, ry) {
  const out = [];
  for (let d = -90; d <= 90; d += 6) {
    const t = d * Math.PI / 180;
    out.push([rx * Math.cos(t), inlet.y + ry * Math.sin(t)]);
  }
  return out;
}

function buildPanel(p) {
  const zs = p.h / zBottom;
  const ex = [(p.fbr[0]-p.fbl[0])/xEnd, (p.fbr[1]-p.fbl[1])/xEnd];
  const ey = [(p.bbl[0]-p.fbl[0])/.4, (p.bbl[1]-p.fbl[1])/.4];
  const proj = (X, Y, Z) => ({
    x: p.fbl[0] + X*ex[0] + (.2-Y)*ey[0],
    y: p.fbl[1] + X*ex[1] + (.2-Y)*ey[1] - (zBottom-Z)*zs
  });
  const datasets = [];
  const add = d => { d.order = -datasets.length; d.showLine = true; d.pointRadius = 0; d.tension = 0; datasets.push(d); };
  const stroke = (segs, w) => {
    const data = [];
    segs.forEach(s => { data.push(...s, {x:NaN, y:NaN}); });
    add({data, borderColor:'#000', borderWidth:w, fill:false, borderCapStyle:'round'});
  };
  const polygon = (ring, z, color) => {
    add({data: ring.map(q => proj(q[0], q[1], z)), backgroundColor: color, borderWidth: 0, fill: 'shape'});
  };

  // box and grid lines behind the slices
  const thin = [], mid = [], thick = [];
  [.2,.4,.6,.8].forEach(X => {
    thin.push([proj(X,-.2,0), proj(X,-.2,zBottom)]);
    thin.push([proj(X,.2,zBottom), proj(X,-.2,zBottom)]);
  });
  [.2,.4,.6].forEach(Z => {
    mid.push([proj(0,-.2,Z), proj(xEnd,-.2,Z)]);
    thin.push([proj(xEnd,-.2,Z), proj(xEnd,.2,Z)]);
  });
  mid.push([proj(0,-.2,0), proj(0,-.2,zBottom)]);
  mid.push([proj(xEnd,-.2,0), proj(xEnd,-.2,zBottom)]);
  mid.push([proj(xEnd,.2,0), proj(xEnd,.2,zBottom)]);
  thick.push([proj(0,-.2,0), proj(xEnd,-.2,0)]);
  thick.push([proj(xEnd,-.2,0), proj(xEnd,.2,0)]);
  thick.push([proj(0,-.2,zBottom), proj(xEnd,-.2,zBottom)]);
  thick.push([proj(xEnd,-.2,zBottom), proj(xEnd,.2,zBottom)]);
  thick.push([proj(0,.2,zBottom), proj(xEnd,.2,zBottom)]);
  thick.push([proj(0,-.2,zBottom), proj(0,.2,zBottom)]);

  // axis ticks
  const up = (q, d) => ({x:q.x, y:q.y-d});
  const side = (q, d) => ({x:q.x-d, y:q.y});
  thin.push([up(proj(0,.2,zBottom),6), up(proj(xEnd,.2,zBottom),6)]);
  for (let k = 0; k <= 17; k++) {
    const base = proj(k*.05,.2,zBottom);
    (k % 4 === 0 ? mid : thin).push([base, up(base, k % 4 === 0 ? 21 : 17)]);
  }
  for (let k = 0; k <= 16; k++) {
    const base = proj(xEnd,.2,k*.05);
    if (k % 4 === 0) thick.push([base, side(base,16)]);
    else thin.push([base, side(base,7)]);
  }
  for (let k = 0; k <= 8; k++) {
    const base = proj(0,-.2+k*.05,zBottom);
    const tip = proj(k % 4 === 0 ? .025 : .013,-.2+k*.05,zBottom);
    (k % 4 === 0 ? thick : thin).push([base, tip]);
  }
  stroke(thin, 1.6); stroke(mid, 2.4); stroke(thick, 5);

  // slices
  p.slices.forEach((table, si) => {
    const z = sliceZ[si];
    polygon(outline, z, bandColors[0]);
    contourPolys(table, xStations, yStations, 0, 4, 5).forEach(q => {
      const r = clipTo(q.ring, outline);
      if (r.length > 2) polygon(r, z, q.color);
    });
    if (si < 3) {
      polygon(halfDisc(inlet.notchX, inlet.notchY), z, '#ffffff');
      if (p.core[si] !== null) polygon(halfDisc(inlet.coreX, inlet.coreY), z, bandColor(p.core[si]));
    }
    if (si === 2) contourPolys(p.jet, jetX, jetY, 20, 4, 4).forEach(q => polygon(q.ring, z, q.color));
  });

  // text, through the same scales
  const serif = s => `bold ${s}px "Liberation Serif"`;
  const texts = [];
  const put = (text, x, y, font, align, rot, tall) => texts.push({text, x, y, font, align: align || 'center', rot: rot || 0, tall: tall || 1});
  put(p.name, p.label[0], p.label[1], '84px "Liberation Sans"');
  xTicks.forEach(X => { const q = proj(X,.2,zBottom); put(String(X), q.x+10, q.y+26, serif(50), 'center', 0, 1.12); });
  zTicks.forEach(Z => { const q = proj(xEnd,.2,Z); put(String(Z), q.x+10, q.y, serif(50), 'left', 0, 1.12); });
  yTicks.forEach(Y => {
    const q = proj(0,Y,zBottom);
    put(Y < 0 ? '\u2212' + Math.abs(Y) : String(Y), q.x + (Y < 0 ? -6 : -12), q.y + (Y < 0 ? 11 : 9), serif(50), 'right', 0, 1.12);
  });
  put('X/m', p.xt[0], p.xt[1], serif(52), 'center', p.xt[2], 1.12);
  put('Y/m', p.yt[0], p.yt[1], serif(52), 'center', 55, 1.05);
  if (p.zt) put('Z/m', p.zt[0], p.zt[1], serif(50), 'center', -90);

  const textPlugin = {
    id: 'panelText',
    afterDatasetsDraw(chart) {
      const ctx = chart.ctx, sx = chart.scales.x, sy = chart.scales.y;
      texts.forEach(t => {
        ctx.save();
        ctx.translate(sx.getPixelForValue(t.x), sy.getPixelForValue(t.y));
        ctx.rotate(t.rot * Math.PI / 180);
        ctx.scale(1, t.tall);
        ctx.font = t.font;
        ctx.fillStyle = '#000';
        ctx.textAlign = t.align;
        ctx.textBaseline = 'middle';
        ctx.fillText(t.text, 0, 0);
        ctx.restore();
      });
    }
  };

  const [left, top, w, h] = p.box;
  const canvas = document.createElement('canvas');
  canvas.width = w; canvas.height = h;
  canvas.style.left = left + 'px'; canvas.style.top = top + 'px';
  document.body.appendChild(canvas);
  new Chart(canvas, {
    type: 'scatter',
    data: {datasets},
    plugins: [textPlugin],
    options: {
      responsive: false, animation: false, events: [],
      layout: {padding: 0},
      plugins: {legend: {display: false}, tooltip: {enabled: false}},
      scales: {
        x: {type: 'linear', display: false, min: left, max: left + w},
        y: {type: 'linear', display: false, min: top, max: top + h, reverse: true}
      }
    }
  });
}

function buildColorBar() {
  const canvas = document.createElement('canvas');
  canvas.width = 330; canvas.height = 973;
  canvas.style.left = '2781px'; canvas.style.top = '1040px';
  document.body.appendChild(canvas);
  new Chart(canvas, {
    type: 'bar',
    data: {
      labels: ['Velocity'],
      datasets: barColors.map((c, i) => ({
        data: [[barEdges[i], barEdges[i+1]]],
        backgroundColor: c, barPercentage: 1, categoryPercentage: 1, grouped: false
      }))
    },
    options: {
      responsive: false, animation: false, events: [],
      layout: {padding: {bottom: 18}},
      plugins: {
        legend: {display: false}, tooltip: {enabled: false},
        title: {display: true, text: 'Velocity(m/s)', align: 'start', color: '#000',
          font: {family: '"Liberation Sans"', size: 44, weight: 'normal'}, padding: {top: 15, bottom: 15}}
      },
      scales: {
        x: {display: false},
        y: {
          position: 'right', min: -.05, max: 1.55,
          grid: {display: false}, border: {display: false},
          afterFit(scale) { scale.width = 265; },
          afterBuildTicks(scale) { scale.ticks = barTicks.map(v => ({value: v - .0105})); },
          ticks: {
            color: '#000', padding: 33, crossAlign: 'near', autoSkip: false,
            font: {family: '"Liberation Sans"', size: 41},
            callback: v => String(+v.toFixed(1))
          }
        }
      }
    }
  });
}

panels.forEach(buildPanel);
buildColorBar();
</script>
</body>
</html>
